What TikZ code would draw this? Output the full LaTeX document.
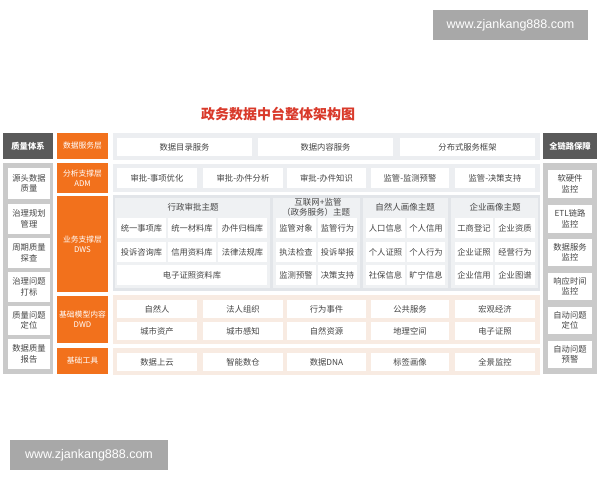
\documentclass[tikz,border=0pt]{standalone}
\usepackage{fontspec}
\setmainfont{Noto Sans CJK SC}
\newfontfamily\wmfont{Liberation Sans}
\definecolor{orng}{HTML}{F2711C}
\definecolor{dgray}{HTML}{5A5A5A}
\definecolor{pgray}{HTML}{CACACA}
\definecolor{bglight}{HTML}{ECEEF1}
\definecolor{dwsbg}{HTML}{E2E5E9}
\definecolor{subbg}{HTML}{EFF1F3}
\definecolor{peach}{HTML}{F8EBE2}
\definecolor{txt}{HTML}{454545}
\definecolor{titlered}{HTML}{D93A2B}
\definecolor{wmgray}{HTML}{A8A8A8}
\newcommand\bx[7]{\node[#6,minimum width={(#4-#2)*1pt},minimum height={(#5-#3)*1pt}] (#1) at ({(#2+#4)/2},{(#3+#5)/2}) {#7};}
\tikzset{
  base/.style={inner sep=0pt,outer sep=0pt,align=center,font=\fontsize{8.3}{10.5}\selectfont,text=txt},
  wbox/.style={base,fill=white},
  obox/.style={base,fill=orng,text=white,font=\fontsize{7.8}{10}\selectfont},
  gbox/.style={base,fill=dgray,text=white,font=\fontsize{8.3}{10}\selectfont\bfseries},
  panel/.style={base,fill=pgray},
  lbg/.style={base,fill=bglight},
  dbg/.style={base,fill=dwsbg},
  sbg/.style={base,fill=subbg},
  pbg/.style={base,fill=peach},
  lbl/.style={base,font=\fontsize{8.5}{10}\selectfont},
  wm/.style={base,fill=wmgray,text=white,font=\wmfont\fontsize{12.5}{14}\selectfont}
}
\begin{document}
\begin{tikzpicture}[x=1pt,y=-1pt]
\useasboundingbox[fill=white] (0,0) rectangle (600,480);
% watermarks
\bx{wm1}{433}{10}{588}{40}{wm}{www.zjankang888.com}
\bx{wm2}{10}{440}{168}{470}{wm}{www.zjankang888.com}
% title
\node[base,text=titlered,font=\fontsize{14}{16}\selectfont\bfseries] (title) at (278,114) {政务数据中台整体架构图};
% left column
\bx{qh}{3}{133}{53}{159}{gbox}{质量体系}
\bx{lp}{3}{163}{53}{374}{panel}{}
\bx{l1}{8}{168}{50}{199}{wbox}{源头数据\\质量}
\bx{l2}{8}{204}{50}{234}{wbox}{治理规划\\管理}
\bx{l3}{8}{238}{50}{268}{wbox}{周期质量\\探查}
\bx{l4}{8}{272}{50}{302}{wbox}{治理问题\\打标}
\bx{l5}{8}{306}{50}{335}{wbox}{质量问题\\定位}
\bx{l6}{8}{339}{50}{369}{wbox}{数据质量\\报告}
% orange column
\bx{o1}{57}{133}{108}{159}{obox}{数据服务层}
\bx{o2}{57}{163}{108}{193}{obox}{分析支撑层\\ADM}
\bx{o3}{57}{196}{108}{292}{obox}{业务支撑层\\DWS}
\bx{o4}{57}{296}{108}{343}{obox}{基础模型内容\\DWD}
\bx{o5}{57}{348}{108}{374}{obox}{基础工具}
% right column
\bx{rh}{543}{133}{597}{159}{gbox}{全链路保障}
\bx{rp}{543}{163}{597}{374}{panel}{}
\bx{r1}{548}{170}{592}{198}{wbox}{软硬件\\监控}
\bx{r2}{548}{205}{592}{233}{wbox}{ETL链路\\监控}
\bx{r3}{548}{239}{592}{266}{wbox}{数据服务\\监控}
\bx{r4}{548}{273}{592}{300}{wbox}{响应时间\\监控}
\bx{r5}{548}{307}{592}{334}{wbox}{自动问题\\定位}
\bx{r6}{548}{341}{592}{368}{wbox}{自动问题\\预警}
% data service row
\bx{sbg}{113}{133}{540}{160}{lbg}{}
\bx{s1}{117}{138}{252}{156}{wbox}{数据目录服务}
\bx{s2}{258}{138}{393}{156}{wbox}{数据内容服务}
\bx{s3}{400}{138}{535}{156}{wbox}{分布式服务框架}
% ADM row
\bx{abg}{113}{164}{540}{192}{lbg}{}
\bx{a1}{117}{168}{197}{188}{wbox}{审批-事项优化}
\bx{a2}{203}{168}{283}{188}{wbox}{审批-办件分析}
\bx{a3}{287}{168}{366}{188}{wbox}{审批-办件知识}
\bx{a4}{371}{168}{449}{188}{wbox}{监管-监测预警}
\bx{a5}{455}{168}{535}{188}{wbox}{监管-决策支持}
% DWS
\bx{dbgn}{113}{195}{540}{291}{dbg}{}
\bx{p1}{115}{198}{270}{288}{sbg}{}
\bx{p2}{273}{198}{360}{288}{sbg}{}
\bx{p3}{363}{198}{448}{288}{sbg}{}
\bx{p4}{451}{198}{538}{288}{sbg}{}
\node[lbl] (t1) at (193,207) {行政审批主题};
\node[lbl] (t2a) at (318,202) {互联网+监管};
\node[lbl] (t2b) at (316,212.5) {（政务服务）主题};
\node[lbl] (t3) at (405,207) {自然人画像主题};
\node[lbl] (t4) at (495,207) {企业画像主题};
\bx{d11}{117}{218}{166}{238}{wbox}{统一事项库}
\bx{d12}{168}{218}{216}{238}{wbox}{统一材料库}
\bx{d13}{218}{218}{267}{238}{wbox}{办件归档库}
\bx{d14}{117}{242}{166}{262}{wbox}{投诉咨询库}
\bx{d15}{168}{242}{216}{262}{wbox}{信用资料库}
\bx{d16}{218}{242}{267}{262}{wbox}{法律法规库}
\bx{d17}{117}{265}{267}{285}{wbox}{电子证照资料库}
\bx{d21}{276}{218}{316}{238}{wbox}{监管对象}
\bx{d22}{318}{218}{357}{238}{wbox}{监管行为}
\bx{d23}{276}{242}{316}{262}{wbox}{执法检查}
\bx{d24}{318}{242}{357}{262}{wbox}{投诉举报}
\bx{d25}{276}{265}{316}{285}{wbox}{监测预警}
\bx{d26}{318}{265}{357}{285}{wbox}{决策支持}
\bx{d31}{366}{218}{405}{238}{wbox}{人口信息}
\bx{d32}{407}{218}{445}{238}{wbox}{个人信用}
\bx{d33}{366}{242}{405}{262}{wbox}{个人证照}
\bx{d34}{407}{242}{445}{262}{wbox}{个人行为}
\bx{d35}{366}{265}{405}{285}{wbox}{社保信息}
\bx{d36}{407}{265}{445}{285}{wbox}{旷宁信息}
\bx{d41}{455}{218}{493}{238}{wbox}{工商登记}
\bx{d42}{495}{218}{535}{238}{wbox}{企业资质}
\bx{d43}{455}{242}{493}{262}{wbox}{企业证照}
\bx{d44}{495}{242}{535}{262}{wbox}{经营行为}
\bx{d45}{455}{265}{493}{285}{wbox}{企业信用}
\bx{d46}{495}{265}{535}{285}{wbox}{企业图谱}
% DWD
\bx{wbg}{113}{295}{540}{344}{pbg}{}
\bx{w1}{117}{300}{197}{318}{wbox}{自然人}
\bx{w2}{203}{300}{283}{318}{wbox}{法人组织}
\bx{w3}{287}{300}{366}{318}{wbox}{行为事件}
\bx{w4}{371}{300}{449}{318}{wbox}{公共服务}
\bx{w5}{455}{300}{535}{318}{wbox}{宏观经济}
\bx{w6}{117}{322}{197}{340}{wbox}{城市资产}
\bx{w7}{203}{322}{283}{340}{wbox}{城市感知}
\bx{w8}{287}{322}{366}{340}{wbox}{自然资源}
\bx{w9}{371}{322}{449}{340}{wbox}{地理空间}
\bx{w10}{455}{322}{535}{340}{wbox}{电子证照}
% tools
\bx{tbg}{113}{348}{540}{375}{pbg}{}
\bx{k1}{117}{353}{197}{371}{wbox}{数据上云}
\bx{k2}{203}{353}{283}{371}{wbox}{智能数仓}
\bx{k3}{287}{353}{366}{371}{wbox}{数据DNA}
\bx{k4}{371}{353}{449}{371}{wbox}{标签画像}
\bx{k5}{455}{353}{535}{371}{wbox}{全景监控}
\end{tikzpicture}
\end{document}
